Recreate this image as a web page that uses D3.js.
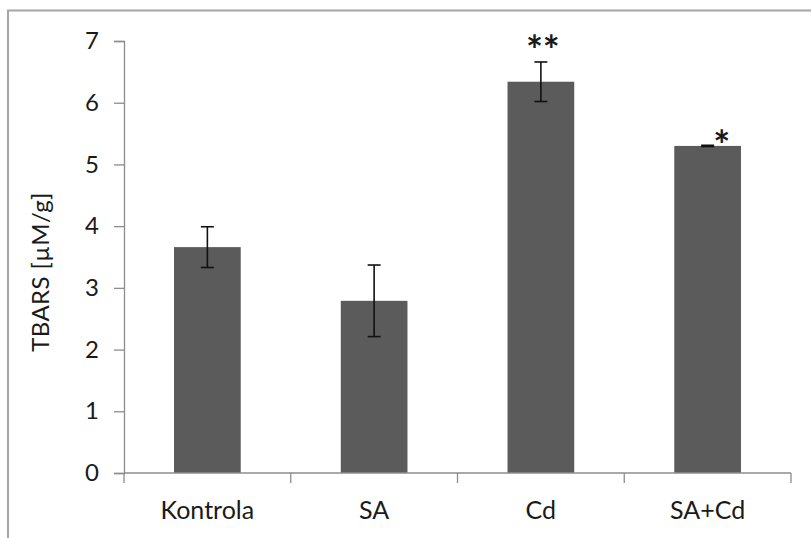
<!DOCTYPE html>
<html>
<head>
<meta charset="utf-8">
<script src="https://cdn.jsdelivr.net/npm/d3@7"></script>
<style>
  html, body { margin: 0; padding: 0; background: #fff; }
  svg { display: block; }
  text { font-family: Lato, "Open Sans", sans-serif; fill: #1a1a1a; }
</style>
</head>
<body>
<svg id="chart" width="811" height="538"></svg>
<script>
// TBARS level per group, with standard error and significance marks
const categories = ["Kontrola", "SA", "Cd", "SA+Cd"];
const means = [3.66, 2.79, 6.34, 5.30];
const errors = [0.33, 0.58, 0.32, 0.01];
const marks = ["", "", "**", "*"];
const yTicks = [0, 1, 2, 3, 4, 5, 6, 7];
const yTitle = "TBARS [µM/g]";

const svg = d3.select("#chart");
const x0 = 124, x1 = 791, yTop = 41, yBase = 473;

// outer frame
svg.append("rect")
  .attr("x", 8).attr("y", 10.5)
  .attr("width", 830).attr("height", 560)
  .attr("fill", "none").attr("stroke", "#a6a6a6").attr("stroke-width", 2);

const x = d3.scaleBand()
  .domain(categories)
  .range([x0, x1])
  .paddingInner(0.6)
  .paddingOuter(0.3);

const y = d3.scaleLinear().domain([0, 7]).range([yBase, yTop]);

// y axis
const yAxis = svg.append("g")
  .attr("transform", `translate(${x0},0)`)
  .call(d3.axisLeft(y).tickValues(yTicks).tickSize(10).tickPadding(15).tickFormat(d3.format("d")));
yAxis.select(".domain").attr("stroke", "#8c8c8c").attr("stroke-width", 1.3);
yAxis.selectAll(".tick line").attr("stroke", "#8c8c8c").attr("stroke-width", 1.3);
yAxis.selectAll(".tick text").style("font-size", "24px").attr("fill", "#1a1a1a");

// bars
svg.append("g").selectAll("rect")
  .data(categories)
  .join("rect")
  .attr("x", d => x(d))
  .attr("width", x.bandwidth())
  .attr("y", (d, i) => y(means[i]))
  .attr("height", (d, i) => y(0) - y(means[i]))
  .attr("fill", "#5b5b5b");

// x axis with ticks on category boundaries
const xBoundaries = d3.range(categories.length + 1).map(i => x0 + i * (x1 - x0) / categories.length);
const xAxisG = svg.append("g");
xAxisG.append("line")
  .attr("x1", x0).attr("x2", x1).attr("y1", yBase).attr("y2", yBase)
  .attr("stroke", "#8c8c8c").attr("stroke-width", 1.3);
xAxisG.selectAll("line.tk")
  .data(xBoundaries)
  .join("line").attr("class", "tk")
  .attr("x1", d => d).attr("x2", d => d)
  .attr("y1", yBase).attr("y2", yBase + 10)
  .attr("stroke", "#8c8c8c").attr("stroke-width", 1.3);
xAxisG.selectAll("text")
  .data(categories)
  .join("text")
  .attr("x", d => x(d) + x.bandwidth() / 2)
  .attr("y", 519)
  .attr("text-anchor", "middle")
  .style("font-size", "25px")
  .text(d => d);

// error bars
const cap = 6.5;
const eb = svg.append("g").attr("stroke", "#111").attr("stroke-width", 1.6);
categories.forEach((c, i) => {
  const cx = x(c) + x.bandwidth() / 2;
  const hi = y(means[i] + errors[i]), lo = y(means[i] - errors[i]);
  eb.append("line").attr("x1", cx).attr("x2", cx).attr("y1", hi).attr("y2", lo);
  eb.append("line").attr("x1", cx - cap).attr("x2", cx + cap).attr("y1", hi).attr("y2", hi);
  eb.append("line").attr("x1", cx - cap).attr("x2", cx + cap).attr("y1", lo).attr("y2", lo);
});

// significance marks
svg.append("g").selectAll("text")
  .data(categories)
  .join("text")
  .attr("x", (d, i) => x(d) + x.bandwidth() / 2 + (i === 3 ? 14 : 2))
  .attr("y", (d, i) => i === 3 ? y(means[i]) + 14 : y(means[i] + errors[i]) + 3)
  .attr("text-anchor", "middle")
  .style("font-size", "40px")
  .style("font-weight", "bold")
  .text((d, i) => marks[i]);

// y axis title
svg.append("text")
  .attr("transform", `translate(49, 272) rotate(-90)`)
  .attr("text-anchor", "middle")
  .style("font-size", "24px")
  .style("letter-spacing", "0.4px")
  .attr("fill", "#333")
  .text(yTitle);
</script>
</body>
</html>
